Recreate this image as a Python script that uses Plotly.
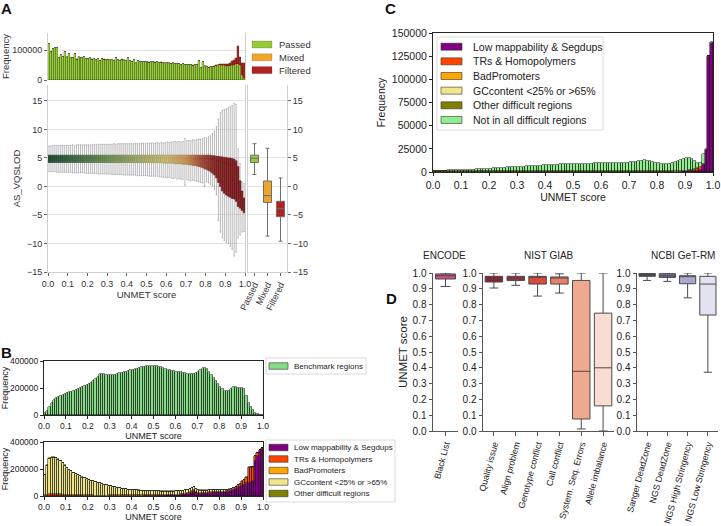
import plotly.graph_objects as go

W, H = 721, 526
FONT = "Liberation Sans, Arial, Helvetica, sans-serif"


def fx(a):
    return a / W


def fy(b):
    return 1 - b / H


def dom_x(a, b):
    return [fx(a), fx(b)]


def dom_y(top, bottom):
    return [fy(bottom), fy(top)]


# ============================ DATA ============================
# histogram bins of width 0.01 on the UNMET score axis
bin_centers = [round(i / 100 + 0.005, 3) for i in range(100)]

# ---- Panel A: stacked histogram (thousands of variants) ----
A_passed_k = [
    120, 93, 102, 106, 107, 72, 82, 77, 93, 75,
    88, 74, 72, 86, 68, 75, 74, 72, 77, 71,
    70, 72, 68, 71, 66, 70, 64, 71, 68, 66,
    67, 65, 66, 63, 72, 66, 64, 68, 65, 63,
    72, 63, 61, 67, 55, 63, 60, 61, 60, 59,
    60, 58, 59, 61, 58, 59, 57, 58, 57, 55,
    57, 55, 54, 55, 53, 54, 52, 51, 53, 50,
    50, 49, 51, 48, 49, 50, 64, 39, 60, 45,
    42, 41, 43, 42, 44, 46, 47, 48, 47, 47,
    46, 45, 46, 47, 48, 50, 52, 48, 15, 5]
A_mixed_k = [
    0.3, 0.3, 0.3, 0.3, 0.3, 0.3, 0.3, 0.3, 0.3, 0.3,
    0.3, 0.3, 0.3, 0.3, 0.3, 0.3, 0.3, 0.3, 0.3, 0.3,
    0.3, 0.3, 0.3, 0.3, 0.3, 0.3, 0.3, 0.3, 0.3, 0.3,
    0.3, 0.3, 0.3, 0.3, 0.3, 0.3, 0.3, 0.3, 0.3, 0.3,
    0.3, 0.3, 0.3, 0.3, 0.3, 0.3, 0.3, 0.3, 0.3, 0.3,
    0.3, 0.3, 0.3, 0.3, 0.3, 0.3, 0.3, 0.3, 0.3, 0.3,
    0.3, 0.3, 0.3, 0.3, 0.3, 0.3, 0.3, 0.3, 0.3, 0.3,
    0.3, 0.3, 0.3, 0.4, 0.4, 0.4, 0.5, 0.5, 0.5, 0.6,
    0.6, 0.7, 0.8, 0.9, 1.0, 1.0, 1.5, 2.0, 2.0, 2.0,
    2.0, 2.0, 2.0, 2.0, 2.0, 2.0, 2.0, 2.0, 3.0, 2.0]
A_filtered_k = [
    0.2, 0.2, 0.2, 0.2, 0.2, 0.2, 0.2, 0.2, 0.2, 0.2,
    0.2, 0.2, 0.2, 0.2, 0.2, 0.2, 0.2, 0.2, 0.2, 0.2,
    0.2, 0.2, 0.2, 0.2, 0.2, 0.2, 0.2, 0.2, 0.2, 0.2,
    0.2, 0.2, 0.2, 0.2, 0.2, 0.2, 0.2, 0.2, 0.2, 0.2,
    0.2, 0.2, 0.2, 0.2, 0.2, 0.2, 0.2, 0.2, 0.2, 0.2,
    0.2, 0.2, 0.2, 0.2, 0.2, 0.2, 0.2, 0.2, 0.2, 0.2,
    0.2, 0.2, 0.2, 0.2, 0.2, 0.2, 0.2, 0.2, 0.2, 0.2,
    0.2, 0.2, 0.3, 0.3, 0.3, 0.3, 0.4, 0.4, 0.4, 0.5,
    0.5, 0.6, 0.8, 1.0, 1.0, 1.5, 2.0, 3.0, 3.0, 4.0,
    4.0, 5.0, 9.0, 13.0, 16.0, 20.0, 58.0, 27.0, 40.0, 50.0]

# ---- Panel A: AS_VQSLOD boxplots per UNMET bin ----
A_box_hi = [
    7.1, 7.1, 7.2, 7.2, 7.2, 7.2, 7.2, 7.2, 7.2, 7.2,
    7.2, 7.2, 7.3, 7.2, 7.3, 7.3, 7.3, 7.3, 7.3, 7.3,
    7.3, 7.3, 7.3, 7.4, 7.3, 7.4, 7.4, 7.4, 7.4, 7.4,
    7.4, 7.4, 7.4, 7.5, 7.4, 7.5, 7.5, 7.5, 7.5, 7.5,
    7.5, 7.5, 7.5, 7.5, 7.6, 7.5, 7.5, 7.6, 7.6, 7.5,
    7.6, 7.6, 7.6, 7.6, 7.6, 7.7, 7.6, 7.7, 7.6, 7.7,
    7.8, 7.7, 7.8, 7.8, 7.9, 7.8, 7.9, 7.8, 7.9, 8.4,
    8.0, 8.1, 8.0, 8.2, 8.1, 8.2, 8.3, 8.3, 8.4, 8.6,
    8.5, 8.7, 8.9, 9.3, 9.7, 10.5, 11.8, 13.0, 13.3, 13.5,
    13.6, 13.8, 14.0, 14.2, 14.6, 14.4, 6.6, 4.0, 0.8, 0.5]
A_box_q3 = [
    5.5, 5.5, 5.5, 5.5, 5.5, 5.5, 5.5, 5.5, 5.5, 5.5,
    5.5, 5.5, 5.5, 5.5, 5.5, 5.5, 5.5, 5.5, 5.5, 5.5,
    5.5, 5.5, 5.5, 5.5, 5.5, 5.5, 5.5, 5.5, 5.5, 5.5,
    5.5, 5.5, 5.5, 5.5, 5.5, 5.5, 5.5, 5.5, 5.5, 5.5,
    5.5, 5.5, 5.5, 5.5, 5.5, 5.5, 5.5, 5.5, 5.5, 5.5,
    5.5, 5.5, 5.5, 5.5, 5.5, 5.5, 5.5, 5.5, 5.5, 5.5,
    5.5, 5.5, 5.5, 5.5, 5.5, 5.5, 5.5, 5.5, 5.5, 5.5,
    5.5, 5.5, 5.5, 5.5, 5.5, 5.5, 5.5, 5.5, 5.5, 5.5,
    5.5, 5.5, 5.5, 5.4, 5.4, 5.3, 5.3, 5.2, 5.2, 5.1,
    5.1, 5.0, 5.0, 4.9, 4.8, 4.5, 3.5, 1.0, -0.8, -2.0]
A_box_med = [
    5.0, 5.0, 5.0, 5.0, 5.0, 5.0, 5.0, 5.0, 5.0, 5.0,
    5.0, 5.0, 5.0, 5.0, 5.0, 5.0, 5.0, 5.0, 5.0, 5.0,
    5.0, 5.0, 5.0, 5.0, 5.0, 5.0, 5.0, 5.0, 5.0, 5.0,
    5.0, 5.0, 5.0, 5.0, 5.0, 5.0, 5.0, 5.0, 5.0, 5.0,
    5.0, 5.0, 5.0, 5.0, 5.0, 5.0, 5.0, 5.0, 5.0, 5.0,
    5.0, 5.0, 5.0, 5.0, 5.0, 5.0, 5.0, 5.0, 5.0, 5.0,
    5.0, 5.0, 5.0, 5.0, 5.0, 5.0, 5.0, 5.0, 4.9, 4.9,
    4.9, 4.9, 4.9, 4.9, 4.9, 4.9, 4.9, 4.9, 4.9, 4.9,
    4.9, 4.9, 4.8, 4.8, 4.7, 4.6, 4.5, 4.4, 4.3, 4.2,
    4.1, 4.0, 3.8, 3.6, 3.3, 2.5, 0.5, -1.5, -2.7, -3.3]
A_box_q1 = [
    4.2, 4.2, 4.2, 4.2, 4.2, 4.2, 4.2, 4.2, 4.2, 4.2,
    4.2, 4.2, 4.2, 4.2, 4.2, 4.2, 4.2, 4.2, 4.2, 4.2,
    4.2, 4.2, 4.2, 4.2, 4.2, 4.2, 4.2, 4.2, 4.2, 4.2,
    4.2, 4.2, 4.2, 4.2, 4.2, 4.2, 4.2, 4.2, 4.2, 4.2,
    4.2, 4.2, 4.2, 4.2, 4.2, 4.2, 4.2, 4.2, 4.2, 4.2,
    4.2, 4.2, 4.2, 4.2, 4.2, 4.2, 4.2, 4.2, 4.1, 4.1,
    4.1, 4.1, 4.1, 4.1, 4.0, 4.0, 4.0, 4.0, 3.9, 3.9,
    3.9, 3.8, 3.8, 3.7, 3.7, 3.6, 3.5, 3.4, 3.3, 3.1,
    3.0, 2.8, 2.6, 2.3, 2.0, 1.5, 0.7, 0.0, -0.8, -1.2,
    -1.5, -1.7, -1.9, -2.1, -2.2, -2.6, -3.5, -3.8, -4.2, -4.6]
A_box_lo = [
    2.6, 2.6, 2.6, 2.6, 2.5, 2.5, 2.5, 2.5, 2.5, 2.5,
    2.5, 2.5, 2.4, 2.4, 2.4, 2.4, 2.4, 2.4, 2.4, 2.3,
    2.3, 2.3, 2.3, 2.3, 2.3, 2.2, 2.2, 2.2, 2.2, 2.2,
    2.2, 2.2, 2.1, 2.1, 2.1, 2.1, 2.1, 2.1, 2.0, 2.0,
    2.0, 2.0, 2.0, 2.0, 2.0, 1.9, 1.9, 1.9, 1.9, 1.9,
    1.9, 1.8, 1.8, 1.8, 1.8, 1.8, 1.7, 1.7, 1.6, 1.6,
    1.5, 1.6, 1.5, 1.4, 1.5, 1.3, 1.4, 1.3, 1.2, 0.2,
    1.2, 1.1, 1.0, 1.1, 1.0, 0.9, 0.8, 0.7, 0.6, 0.0,
    0.8, 0.6, 0.3, 0.0, -0.5, -1.5, -6.0, -8.0, -9.0, -9.5,
    -9.8, -10.0, -10.5, -11.0, -12.2, -11.5, -9.0, -8.5, -8.0, -7.9]

# ---- Panel A: summary boxplots per filter status ----
A_status = ["Passed", "Mixed", "Filtered"]
A_status_q1 = [4.2, -2.8, -5.3]
A_status_med = [4.95, -1.6, -3.9]
A_status_q3 = [5.5, 0.95, -2.6]
A_status_lo = [2.1, -8.7, -9.6]
A_status_hi = [7.5, 6.7, 1.5]

# ---- Panel B top: benchmark regions (thousands) ----
B_bench_k = [
    15, 30, 60, 90, 110, 125, 135, 140, 148, 155,
    162, 168, 172, 178, 183, 190, 197, 205, 212, 220,
    230, 240, 252, 265, 285, 302, 303, 302, 300, 298,
    295, 297, 300, 303, 308, 312, 318, 322, 327, 330,
    333, 338, 343, 350, 355, 358, 360, 362, 360, 361,
    362, 360, 357, 352, 347, 340, 335, 330, 327, 323,
    320, 318, 315, 312, 310, 307, 305, 305, 306, 310,
    318, 335, 345, 350, 340, 320, 300, 275, 250, 230,
    210, 192, 180, 175, 178, 195, 205, 205, 203, 202,
    200, 195, 140, 90, 60, 35, 18, 5, 0, 0]

# ---- Panel B bottom: difficult regions (thousands) ----
B_lowmap_k = [
    0, 0, 0, 0, 0, 0, 0, 0, 0, 0,
    0, 0, 0, 0, 0, 0, 0, 0, 0, 0,
    0, 0, 0, 0, 0, 0, 0, 0, 0, 1,
    1, 1, 1, 1, 1, 1, 1, 1, 1, 1,
    1, 1, 1, 1, 1, 2, 2, 2, 2, 2,
    2, 3, 3, 3, 3, 4, 4, 5, 5, 6,
    7, 8, 10, 12, 14, 17, 22, 30, 38, 25,
    18, 18, 19, 20, 21, 22, 24, 26, 27, 26,
    26, 27, 29, 32, 35, 40, 46, 54, 62, 70,
    80, 85, 95, 100, 105, 110, 260, 300, 330, 350]
B_trs_k = [
    3, 8, 12, 14, 13, 12, 11, 10, 9, 8,
    7, 6, 6, 5, 5, 4, 4, 4, 3, 3,
    3, 3, 3, 2, 2, 2, 2, 2, 2, 2,
    2, 2, 2, 2, 2, 2, 2, 2, 2, 2,
    2, 2, 2, 2, 2, 2, 2, 2, 2, 2,
    2, 2, 2, 2, 2, 2, 2, 2, 2, 2,
    2, 2, 2, 2, 2, 2, 3, 3, 3, 3,
    3, 3, 3, 3, 3, 3, 3, 3, 3, 3,
    3, 3, 3, 4, 4, 5, 6, 8, 10, 12,
    20, 25, 35, 105, 105, 100, 30, 15, 10, 5]
B_badprom_k = [
    2, 3, 3, 3, 3, 3, 2, 2, 2, 2,
    1, 1, 1, 1, 1, 1, 1, 1, 1, 1,
    1, 1, 1, 1, 1, 1, 1, 1, 1, 1,
    1, 1, 1, 1, 1, 1, 1, 1, 1, 1,
    1, 1, 1, 1, 1, 1, 1, 1, 1, 1,
    1, 1, 1, 1, 1, 1, 1, 1, 1, 1,
    1, 1, 1, 1, 1, 1, 1, 1, 1, 1,
    1, 1, 1, 1, 1, 1, 1, 1, 1, 1,
    1, 1, 1, 1, 1, 1, 1, 1, 1, 1,
    2, 2, 3, 3, 3, 2, 2, 1, 1, 1]
B_gc_k = [
    148, 210, 258, 266, 266, 263, 257, 245, 230, 214,
    198, 186, 175, 165, 156, 148, 140, 132, 126, 120,
    114, 109, 104, 99, 94, 90, 85, 80, 75, 71,
    67, 63, 59, 56, 53, 50, 47, 45, 43, 41,
    39, 38, 37, 36, 35, 34, 33, 32, 31, 30,
    29, 28, 28, 27, 27, 26, 26, 25, 25, 24,
    24, 24, 24, 24, 24, 24, 24, 24, 24, 22,
    20, 18, 17, 16, 15, 15, 14, 14, 13, 13,
    12, 11, 10, 9, 8, 8, 7, 6, 6, 5,
    5, 4, 4, 3, 3, 3, 2, 2, 1, 1]
B_other_k = [
    3, 5, 6, 6, 5, 5, 4, 4, 3, 3,
    3, 2, 2, 2, 2, 2, 2, 2, 2, 2,
    1, 1, 1, 1, 1, 1, 1, 1, 1, 1,
    1, 1, 1, 1, 1, 1, 1, 1, 1, 1,
    1, 1, 1, 1, 1, 1, 1, 1, 1, 1,
    1, 1, 1, 1, 1, 1, 1, 1, 1, 1,
    1, 1, 1, 1, 1, 1, 1, 1, 1, 1,
    1, 1, 1, 1, 1, 1, 1, 1, 1, 1,
    1, 1, 1, 1, 1, 1, 1, 1, 1, 1,
    1, 1, 1, 1, 1, 1, 1, 1, 1, 1]

# ---- Panel C: variants by region type (thousands) ----
C_lowmap_k = [
    0.1, 0.1, 0.1, 0.1, 0.1, 0.1, 0.1, 0.1, 0.1, 0.1,
    0.1, 0.1, 0.1, 0.1, 0.1, 0.1, 0.1, 0.1, 0.1, 0.1,
    0.1, 0.1, 0.1, 0.1, 0.1, 0.1, 0.1, 0.1, 0.1, 0.1,
    0.1, 0.1, 0.1, 0.1, 0.1, 0.1, 0.1, 0.1, 0.1, 0.1,
    0.1, 0.1, 0.1, 0.1, 0.1, 0.1, 0.1, 0.1, 0.1, 0.1,
    0.1, 0.1, 0.1, 0.1, 0.1, 0.1, 0.1, 0.1, 0.1, 0.1,
    0.1, 0.1, 0.1, 0.1, 0.1, 0.1, 0.1, 0.1, 0.1, 0.1,
    0.1, 0.1, 0.1, 0.1, 0.1, 0.1, 0.1, 0.1, 0.1, 0.1,
    0.2, 0.2, 0.2, 0.3, 0.3, 0.3, 0.4, 0.4, 0.5, 0.6,
    0.7, 0.8, 1.0, 1.2, 1.5, 2.5, 7.5, 23.5, 124.5, 139.5]
C_trs_k = [
    0.05, 0.05, 0.05, 0.05, 0.05, 0.05, 0.05, 0.05, 0.05, 0.05,
    0.05, 0.05, 0.05, 0.05, 0.05, 0.05, 0.05, 0.05, 0.05, 0.05,
    0.05, 0.05, 0.05, 0.05, 0.05, 0.05, 0.05, 0.05, 0.05, 0.05,
    0.05, 0.05, 0.05, 0.05, 0.05, 0.05, 0.05, 0.05, 0.05, 0.05,
    0.05, 0.05, 0.05, 0.05, 0.05, 0.05, 0.05, 0.05, 0.05, 0.05,
    0.05, 0.05, 0.05, 0.05, 0.05, 0.05, 0.05, 0.05, 0.05, 0.05,
    0.05, 0.05, 0.05, 0.05, 0.05, 0.05, 0.05, 0.05, 0.05, 0.05,
    0.05, 0.05, 0.05, 0.05, 0.05, 0.05, 0.05, 0.05, 0.05, 0.05,
    0.05, 0.05, 0.05, 0.05, 0.05, 0.05, 0.05, 0.05, 0.05, 0.05,
    0.3, 0.5, 1.0, 1.5, 2.0, 2.5, 1.0, 0.3, 0.2, 0.2]
C_badprom_k = [
    0.02, 0.02, 0.02, 0.02, 0.02, 0.02, 0.02, 0.02, 0.02, 0.02,
    0.02, 0.02, 0.02, 0.02, 0.02, 0.02, 0.02, 0.02, 0.02, 0.02,
    0.02, 0.02, 0.02, 0.02, 0.02, 0.02, 0.02, 0.02, 0.02, 0.02,
    0.02, 0.02, 0.02, 0.02, 0.02, 0.02, 0.02, 0.02, 0.02, 0.02,
    0.02, 0.02, 0.02, 0.02, 0.02, 0.02, 0.02, 0.02, 0.02, 0.02,
    0.02, 0.02, 0.02, 0.02, 0.02, 0.02, 0.02, 0.02, 0.02, 0.02,
    0.02, 0.02, 0.02, 0.02, 0.02, 0.02, 0.02, 0.02, 0.02, 0.02,
    0.02, 0.02, 0.02, 0.02, 0.02, 0.02, 0.02, 0.02, 0.02, 0.02,
    0.02, 0.02, 0.02, 0.02, 0.02, 0.02, 0.02, 0.02, 0.02, 0.02,
    0.02, 0.02, 0.02, 0.02, 0.02, 0.02, 0.02, 0.0, 0.0, 0.0]
C_gc_k = [
    0.1, 0.1, 0.1, 0.1, 0.1, 0.1, 0.1, 0.1, 0.1, 0.1,
    0.1, 0.1, 0.1, 0.1, 0.1, 0.1, 0.1, 0.1, 0.1, 0.1,
    0.1, 0.1, 0.1, 0.1, 0.1, 0.1, 0.1, 0.1, 0.1, 0.1,
    0.1, 0.1, 0.1, 0.1, 0.1, 0.1, 0.1, 0.1, 0.1, 0.1,
    0.1, 0.1, 0.1, 0.1, 0.1, 0.1, 0.1, 0.1, 0.1, 0.1,
    0.1, 0.1, 0.1, 0.1, 0.1, 0.1, 0.1, 0.1, 0.1, 0.1,
    0.1, 0.1, 0.1, 0.1, 0.1, 0.1, 0.1, 0.1, 0.1, 0.1,
    0.1, 0.1, 0.1, 0.1, 0.1, 0.1, 0.1, 0.1, 0.1, 0.1,
    0.1, 0.1, 0.1, 0.1, 0.1, 0.1, 0.1, 0.1, 0.1, 0.1,
    0.1, 0.1, 0.1, 0.1, 0.1, 0.1, 0.0, 0.0, 0.0, 0.0]
C_other_k = [
    0.6, 0.6, 0.6, 0.6, 0.6, 0.6, 0.6, 0.6, 0.6, 0.6,
    0.5, 0.5, 0.5, 0.5, 0.5, 0.5, 0.5, 0.5, 0.5, 0.5,
    0.3, 0.3, 0.3, 0.3, 0.3, 0.3, 0.3, 0.3, 0.3, 0.3,
    0.3, 0.3, 0.3, 0.3, 0.3, 0.3, 0.3, 0.3, 0.3, 0.3,
    0.3, 0.3, 0.3, 0.3, 0.3, 0.3, 0.3, 0.3, 0.3, 0.3,
    0.3, 0.3, 0.3, 0.3, 0.3, 0.3, 0.3, 0.3, 0.3, 0.3,
    0.3, 0.3, 0.3, 0.3, 0.3, 0.3, 0.3, 0.3, 0.3, 0.3,
    0.3, 0.3, 0.3, 0.3, 0.3, 0.3, 0.3, 0.3, 0.3, 0.3,
    0.3, 0.3, 0.3, 0.3, 0.3, 0.3, 0.3, 0.3, 0.3, 0.3,
    0.3, 0.3, 0.3, 0.3, 0.3, 0.3, 0.2, 0.0, 0.0, 0.0]
C_notin_k = [
    0.3, 0.4, 0.5, 0.6, 0.7, 0.8, 0.9, 1.0, 1.1, 1.2,
    1.3, 1.5, 1.6, 1.8, 1.9, 2.1, 2.3, 2.5, 2.7, 2.9,
    3.1, 3.3, 3.5, 3.7, 3.9, 4.1, 4.3, 4.5, 4.6, 4.8,
    4.9, 5.1, 5.2, 5.4, 5.5, 5.7, 5.9, 6.1, 6.3, 6.5,
    6.7, 6.9, 7.1, 7.3, 7.5, 7.6, 7.8, 7.9, 8.0, 8.1,
    8.2, 8.2, 8.3, 8.4, 8.4, 8.5, 8.6, 8.7, 8.8, 8.8,
    8.9, 8.9, 9.0, 9.0, 9.1, 9.1, 9.2, 9.3, 9.4, 9.5,
    9.7, 10.0, 10.6, 11.2, 11.8, 12.0, 11.6, 10.8, 10.0, 9.3,
    8.8, 8.4, 8.0, 7.8, 8.0, 8.6, 9.5, 10.8, 12.2, 13.3,
    13.8, 13.9, 12.0, 8.5, 5.5, 4.0, 10.8, 0.5, 0.3, 0.3]

# ---- Panel D: UNMET score distributions per public annotation ----
D_encode_cats = ["Black List"]
D_encode_q1 = [0.962]
D_encode_med = [0.983]
D_encode_q3 = [0.994]
D_encode_lo = [0.915]
D_encode_hi = [1.0]

D_nist_cats = ["Quality issue", "Align problem", "Genotype conflict",
               "Call conflict", "System. Seq. Errors", "Allele imbalance"]
D_nist_q1 = [0.943, 0.953, 0.930, 0.930, 0.076, 0.159]
D_nist_med = [0.962, 0.968, 0.975, 0.968, 0.378, 0.400]
D_nist_q3 = [0.979, 0.979, 0.979, 0.975, 0.953, 0.746]
D_nist_lo = [0.905, 0.922, 0.854, 0.873, 0.013, 0.0]
D_nist_hi = [1.0, 1.0, 1.0, 0.995, 1.0, 1.0]

D_ncbi_cats = ["Sanger DeadZone", "NGS DeadZone",
               "NGS High Stringency", "NGS Low Stringency"]
D_ncbi_q1 = [0.979, 0.972, 0.932, 0.734]
D_ncbi_med = [0.989, 0.982, 0.979, 0.930]
D_ncbi_q3 = [0.998, 0.996, 0.983, 0.979]
D_ncbi_lo = [0.953, 0.947, 0.843, 0.372]
D_ncbi_hi = [1.0, 1.0, 1.0, 1.0]

# ============================ STYLES ============================
COL_PASSED = "#98C93C"
COL_MIXED = "#EFA52B"
COL_FILTERED = "#B22222"
COL_LOWMAP = "#800080"
COL_TRS = "#FF4500"
COL_BADPROM = "#FFA500"
COL_GC = "#F0E68C"
COL_OTHER = "#808000"
COL_NOTIN = "#90EE90"
COL_BENCH = "#86DC86"

D_encode_colors = ["#C7528C"]
D_nist_colors = ["#8E1F2F", "#A62A3A", "#D6493F", "#E8806A", "#EFA98F", "#F9DDD2"]
D_ncbi_colors = ["#454563", "#72729A", "#A9A9CF", "#E2E2F0"]

GRAD_STOPS = [(0.0, (24, 70, 48)), (0.15, (62, 112, 68)), (0.30, (112, 145, 84)),
              (0.45, (168, 175, 104)), (0.60, (212, 196, 116)), (0.70, (212, 155, 86)),
              (0.78, (170, 74, 56)), (0.85, (136, 32, 32)), (1.0, (125, 22, 28))]


def grad(t, dark=1.0):
    for (t0, c0), (t1, c1) in zip(GRAD_STOPS, GRAD_STOPS[1:]):
        if t <= t1:
            f = (t - t0) / (t1 - t0)
            c = [round((a + (b - a) * f) * dark) for a, b in zip(c0, c1)]
            return "rgb(%d,%d,%d)" % tuple(c)
    return "rgb(%d,%d,%d)" % tuple(round(v * dark) for v in GRAD_STOPS[-1][1])


def k(vals):
    return [v * 1000 for v in vals]


fig = go.Figure()

# ---------------- Panel A histogram ----------------
edgeA = dict(color="rgba(20,40,10,0.55)", width=0.4)
for name, vals, col in [("Passed", A_passed_k, COL_PASSED),
                        ("Mixed", A_mixed_k, COL_MIXED),
                        ("Filtered", A_filtered_k, COL_FILTERED)]:
    fig.add_trace(go.Bar(x=bin_centers, y=k(vals), name=name, marker=dict(color=col, line=edgeA),
                         xaxis="x", yaxis="y", showlegend=False, hoverinfo="skip"))

# ---------------- Panel A boxplots ----------------
# whiskers + caps (grey)
for i, xc in enumerate(bin_centers):
    fig.add_trace(go.Box(x=[xc], q1=[A_box_q1[i]], median=[A_box_med[i]], q3=[A_box_q3[i]],
                         lowerfence=[A_box_lo[i]], upperfence=[A_box_hi[i]],
                         fillcolor="#a8a8a8", line=dict(color="#9c9c9c", width=0.7),
                         width=0.0075, whiskerwidth=1, boxpoints=False,
                         xaxis="x2", yaxis="y2", showlegend=False, hoverinfo="skip"))
# coloured inter-quartile boxes on top
for i, xc in enumerate(bin_centers):
    fig.add_trace(go.Box(x=[xc], q1=[A_box_q1[i]], median=[A_box_med[i]], q3=[A_box_q3[i]],
                         lowerfence=[A_box_q1[i]], upperfence=[A_box_q3[i]],
                         fillcolor=grad(xc), line=dict(color=grad(xc, 0.8), width=0.4),
                         width=0.0085, whiskerwidth=0, boxpoints=False,
                         xaxis="x2", yaxis="y2", showlegend=False, hoverinfo="skip"))

for i, cat in enumerate(A_status):
    fig.add_trace(go.Box(x=[cat], q1=[A_status_q1[i]], median=[A_status_med[i]], q3=[A_status_q3[i]],
                         lowerfence=[A_status_lo[i]], upperfence=[A_status_hi[i]],
                         fillcolor=[COL_PASSED, COL_MIXED, COL_FILTERED][i],
                         line=dict(color="#6e6e6e", width=1), width=0.62, whiskerwidth=0.5,
                         boxpoints=False, xaxis="x3", yaxis="y3", showlegend=False, hoverinfo="skip"))

# ---------------- Panel B ----------------
edgeB = dict(color="#111111", width=0.5)
fig.add_trace(go.Bar(x=bin_centers, y=k(B_bench_k), name="Benchmark regions",
                     marker=dict(color=COL_BENCH, line=edgeB), xaxis="x4", yaxis="y4",
                     showlegend=False, hoverinfo="skip"))
for name, vals, col in [("Low mappability & Segdups", B_lowmap_k, COL_LOWMAP),
                        ("TRs & Homopolymers", B_trs_k, COL_TRS),
                        ("BadPromoters", B_badprom_k, COL_BADPROM),
                        ("GCcontent <25% or >65%", B_gc_k, COL_GC),
                        ("Other difficult regions", B_other_k, COL_OTHER)]:
    fig.add_trace(go.Bar(x=bin_centers, y=k(vals), name=name, marker=dict(color=col, line=edgeB),
                         xaxis="x5", yaxis="y5", showlegend=False, hoverinfo="skip"))

# ---------------- Panel C ----------------
for name, vals, col in [("Low mappability & Segdups", C_lowmap_k, COL_LOWMAP),
                        ("TRs & Homopolymers", C_trs_k, COL_TRS),
                        ("BadPromoters", C_badprom_k, COL_BADPROM),
                        ("GCcontent <25% or >65%", C_gc_k, COL_GC),
                        ("Other difficult regions", C_other_k, COL_OTHER),
                        ("Not in all difficult regions", C_notin_k, COL_NOTIN)]:
    fig.add_trace(go.Bar(x=bin_centers, y=k(vals), name=name, marker=dict(color=col, line=edgeB),
                         xaxis="x6", yaxis="y6", showlegend=False, hoverinfo="skip"))

# ---------------- Panel D ----------------
for (xa, ya, cats, q1, med, q3, lo, hi, cols) in [
        ("x7", "y7", D_encode_cats, D_encode_q1, D_encode_med, D_encode_q3, D_encode_lo, D_encode_hi, D_encode_colors),
        ("x8", "y8", D_nist_cats, D_nist_q1, D_nist_med, D_nist_q3, D_nist_lo, D_nist_hi, D_nist_colors),
        ("x9", "y9", D_ncbi_cats, D_ncbi_q1, D_ncbi_med, D_ncbi_q3, D_ncbi_lo, D_ncbi_hi, D_ncbi_colors)]:
    for i, cat in enumerate(cats):
        fig.add_trace(go.Box(x=[cat], q1=[q1[i]], median=[med[i]], q3=[q3[i]],
                             lowerfence=[lo[i]], upperfence=[hi[i]], fillcolor=cols[i],
                             line=dict(color="#4a4a4a", width=1), width=0.8, whiskerwidth=0.5,
                             boxpoints=False, xaxis=xa, yaxis=ya, showlegend=False, hoverinfo="skip"))

# ============================ LAYOUT ============================
GRID_A = "#e2e2e2"
SPINE_A = "#cfcfcf"
TXT_A = "#333333"
BLK = "#222222"

unmet_ticks = dict(tickmode="array", tickvals=[0, 0.1, 0.2, 0.3, 0.4, 0.5, 0.6, 0.7, 0.8, 0.9, 1.0],
                   ticktext=["0.0", "0.1", "0.2", "0.3", "0.4", "0.5", "0.6", "0.7", "0.8", "0.9", "1.0"])


def axA(**kw):
    d = dict(showline=True, linecolor=SPINE_A, linewidth=1, zeroline=False, ticks="outside",
             ticklen=3, tickcolor="#666", tickfont=dict(size=9, color=TXT_A),
             showgrid=False, gridcolor=GRID_A, gridwidth=1, automargin=False)
    d.update(kw)
    return d


def axB(size, **kw):
    d = dict(showline=True, linecolor="#262626", linewidth=1, mirror=True, zeroline=False,
             ticks="outside", ticklen=3, tickcolor="#262626", tickfont=dict(size=size, color=BLK),
             showgrid=False, automargin=False)
    d.update(kw)
    return d


def axD(**kw):
    d = dict(showline=True, linecolor="#555", linewidth=1, zeroline=False, ticks="outside",
             ticklen=3.5, tickcolor="#555", tickfont=dict(size=10, color=BLK), showgrid=False,
             automargin=False)
    d.update(kw)
    return d


D_yticks = dict(tickmode="array", tickvals=[0, 0.1, 0.2, 0.3, 0.4, 0.5, 0.6, 0.7, 0.8, 0.9, 1.0],
                ticktext=["0.0", "0.1", "0.2", "0.3", "0.4", "0.5", "0.6", "0.7", "0.8", "0.9", "1.0"])
D_xfont = dict(size=8.9, color=BLK)

layout = dict(
    template="none",
    width=W, height=H, autosize=False, margin=dict(l=0, r=0, t=0, b=0, pad=0),
    paper_bgcolor="white", plot_bgcolor="white",
    font=dict(family=FONT, color=BLK, size=10),
    barmode="stack", bargap=0, boxmode="overlay", showlegend=False,
    # Panel A histogram
    xaxis=axA(domain=dom_x(48, 245), anchor="y", range=[0, 1], showticklabels=False,
              ticks="", showline=False),
    yaxis=axA(domain=dom_y(33, 80), anchor="x", range=[0, 157000], tickvals=[0, 100000],
              ticktext=["0", "100000"], showgrid=True, mirror=True,
              title=dict(text="Frequency", font=dict(size=9.5, color=TXT_A), standoff=3)),
    # Panel A main boxplots
    xaxis2=axA(domain=dom_x(48, 245), anchor="y2", range=[0, 1], **unmet_ticks,
               title=dict(text="UNMET score", font=dict(size=9.5, color=TXT_A), standoff=2)),
    yaxis2=axA(domain=dom_y(85, 272), anchor="x2", range=[-15, 17.8],
               tickvals=[-15, -10, -5, 0, 5, 10, 15], showgrid=True, mirror=True,
               title=dict(text="AS_VQSLOD", font=dict(size=9.5, color=TXT_A), standoff=4)),
    # Panel A status boxes
    xaxis3=axA(domain=dom_x(248, 287), anchor="y3", type="category",
               categoryorder="array", categoryarray=A_status, range=[-0.5, 2.5], tickangle=-64),
    yaxis3=axA(domain=dom_y(85, 272), anchor="x3", side="right", range=[-15, 17.8],
               tickvals=[-15, -10, -5, 0, 5, 10, 15], showgrid=True, mirror=True),
    # Panel B
    xaxis4=axB(8.5, domain=dom_x(44, 263), anchor="y4", range=[0, 1], **unmet_ticks,
               title=dict(text="UNMET score", font=dict(size=9, color=BLK), standoff=1)),
    yaxis4=axB(8.5, domain=dom_y(361, 415), anchor="x4", range=[0, 400000],
               tickvals=[0, 200000, 400000], ticktext=["0", "200000", "400000"],
               title=dict(text="Frequency", font=dict(size=9, color=BLK), standoff=2)),
    xaxis5=axB(8.5, domain=dom_x(44, 263), anchor="y5", range=[0, 1], **unmet_ticks,
               title=dict(text="UNMET score", font=dict(size=9, color=BLK), standoff=1)),
    yaxis5=axB(8.5, domain=dom_y(442, 496), anchor="x5", range=[0, 400000],
               tickvals=[0, 200000, 400000], ticktext=["0", "200000", "400000"],
               title=dict(text="Frequency", font=dict(size=9, color=BLK), standoff=2)),
    # Panel C
    xaxis6=axB(10.5, domain=dom_x(433, 713), anchor="y6", range=[0, 1], **unmet_ticks,
               title=dict(text="UNMET score", font=dict(size=10.5, color=BLK), standoff=2)),
    yaxis6=axB(10.5, domain=dom_y(33, 172), anchor="x6", range=[0, 150000],
               tickvals=[0, 25000, 50000, 75000, 100000, 125000, 150000],
               ticktext=["0", "25000", "50000", "75000", "100000", "125000", "150000"],
               title=dict(text="Frequency", font=dict(size=10.5, color=BLK), standoff=4)),
    # Panel D
    xaxis7=axD(domain=dom_x(433, 458), anchor="y7", type="category", tickangle=-75,
               range=[-0.5, 0.5], tickfont=D_xfont),
    yaxis7=axD(domain=dom_y(273, 431), anchor="x7", range=[0, 1], **D_yticks,
               title=dict(text="UNMET score", font=dict(size=11.5, color=BLK), standoff=2)),
    xaxis8=axD(domain=dom_x(483, 614), anchor="y8", type="category", tickangle=-75,
               categoryorder="array", categoryarray=D_nist_cats, range=[-0.5, 5.5],
               tickfont=D_xfont),
    yaxis8=axD(domain=dom_y(273, 431), anchor="x8", range=[0, 1], **D_yticks),
    xaxis9=axD(domain=dom_x(637, 718), anchor="y9", type="category", tickangle=-75,
               categoryorder="array", categoryarray=D_ncbi_cats, range=[-0.5, 3.5],
               tickfont=D_xfont),
    yaxis9=axD(domain=dom_y(273, 431), anchor="x9", range=[0, 1], **D_yticks),
)

shapes = []
annotations = []


def add_legend(items, x_patch, y_first, step, pw, ph, x_text, fsize, color, box=None, edge="#333"):
    if box is not None:
        x0, y0, x1, y1 = box
        shapes.append(dict(type="rect", xref="paper", yref="paper", x0=fx(x0), x1=fx(x1),
                           y0=fy(y1), y1=fy(y0), fillcolor="white",
                           line=dict(color="#d0d0d0", width=0.8), layer="above"))
    for j, (label, col) in enumerate(items):
        yc = y_first + j * step
        shapes.append(dict(type="rect", xref="paper", yref="paper", x0=fx(x_patch), x1=fx(x_patch + pw),
                           y0=fy(yc + ph / 2), y1=fy(yc - ph / 2), fillcolor=col,
                           line=dict(color=edge, width=0.6), layer="above"))
        annotations.append(dict(text=label, xref="paper", yref="paper", x=fx(x_text), y=fy(yc),
                                xanchor="left", yanchor="middle", showarrow=False,
                                font=dict(size=fsize, color=color)))


add_legend([("Passed", COL_PASSED), ("Mixed", COL_MIXED), ("Filtered", COL_FILTERED)],
           252, 44.5, 12.8, 20, 7, 277, 9.5, TXT_A, edge="rgba(0,0,0,0.25)")
add_legend([("Benchmark regions", COL_BENCH)], 269, 366, 12, 19, 6.5, 292, 8, BLK,
           box=(266, 358, 366, 374))
add_legend([("Low mappability & Segdups", COL_LOWMAP), ("TRs & Homopolymers", COL_TRS),
            ("BadPromoters", COL_BADPROM), ("GCcontent <25% or >65%", COL_GC),
            ("Other difficult regions", COL_OTHER)],
           269, 447.5, 11.5, 19, 6.5, 292, 8, BLK, box=(266, 440, 395, 502))
add_legend([("Low mappability & Segdups", COL_LOWMAP), ("TRs & Homopolymers", COL_TRS),
            ("BadPromoters", COL_BADPROM), ("GCcontent <25% or >65%", COL_GC),
            ("Other difficult regions", COL_OTHER), ("Not in all difficult regions", COL_NOTIN)],
           441, 46.7, 14.65, 21, 7, 471, 10.5, BLK, box=(437, 37, 603, 130))

# panel letters
for letter, x, y in [("A", 7, 8), ("B", 7, 352), ("C", 390, 9), ("D", 391, 298)]:
    annotations.append(dict(text="<b>%s</b>" % letter, xref="paper", yref="paper", x=fx(x), y=fy(y),
                            xanchor="center", yanchor="middle", showarrow=False,
                            font=dict(size=15, color="#111")))

# panel D group titles
for title, x in [("ENCODE", 445), ("NIST GIAB", 549), ("NCBI GeT-RM", 683)]:
    annotations.append(dict(text=title, xref="paper", yref="paper", x=fx(x), y=fy(256),
                            xanchor="center", yanchor="middle", showarrow=False,
                            font=dict(size=10, color=BLK)))

layout["shapes"] = shapes
layout["annotations"] = annotations
fig.update_layout(**layout)

# remove the default page margin so the 721x526 figure fills the window exactly
fig.write_html("out.html", config={"displayModeBar": False},
               post_script="document.body.style.margin='0';document.body.style.overflow='hidden';")
